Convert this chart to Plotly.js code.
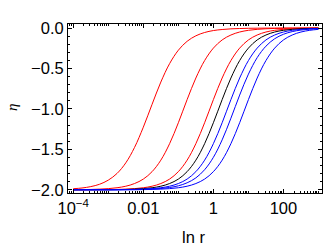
<!DOCTYPE html>
<html><head><meta charset="utf-8">
<script src="https://cdn.plot.ly/plotly-3.0.1.min.js"></script>
<style>html,body{margin:0;padding:0;background:#fff}</style>
</head><body><div id="chart" style="width:324px;height:248px"></div>
<script>
// r values (log grid)
const r = [1e-4,1.778e-4,3.162e-4,5.623e-4,1e-3,1.778e-3,3.162e-3,5.623e-3,0.01,0.01778,0.03162,0.05623,0.1,0.1778,0.3162,0.5623,1,1.778,3.162,5.623,10,17.78,31.62,56.23,100,177.8,316.2,562.3,1000];
const red1 = [-1.987,-1.978,-1.961,-1.932,-1.881,-1.798,-1.667,-1.476,-1.226,-0.943,-0.668,-0.440,-0.274,-0.164,-0.096,-0.055,-0.031,-0.018,-0.010,-0.006,-0.003,-0.002,-0.001,-0.001,0,0,0,0,0];
const red2 = [-1.999,-1.998,-1.996,-1.992,-1.986,-1.975,-1.956,-1.923,-1.868,-1.776,-1.634,-1.430,-1.171,-0.885,-0.618,-0.402,-0.248,-0.147,-0.086,-0.049,-0.028,-0.016,-0.009,-0.005,-0.003,-0.002,-0.001,-0.001,0];
const red3 = [-2.000,-2.000,-1.999,-1.999,-1.998,-1.996,-1.992,-1.986,-1.975,-1.956,-1.923,-1.868,-1.776,-1.634,-1.430,-1.171,-0.885,-0.618,-0.402,-0.248,-0.147,-0.086,-0.049,-0.028,-0.016,-0.009,-0.005,-0.003,-0.002];
const black1 = [-2.000,-2.000,-2.000,-1.999,-1.999,-1.998,-1.996,-1.992,-1.986,-1.975,-1.956,-1.923,-1.868,-1.776,-1.634,-1.430,-1.171,-0.885,-0.618,-0.402,-0.248,-0.147,-0.086,-0.049,-0.028,-0.016,-0.009,-0.005,-0.003];
const blue1 = [-2.000,-2.000,-2.000,-2.000,-2.000,-1.999,-1.998,-1.996,-1.992,-1.986,-1.975,-1.956,-1.923,-1.868,-1.776,-1.634,-1.430,-1.171,-0.885,-0.618,-0.402,-0.248,-0.147,-0.086,-0.049,-0.028,-0.016,-0.009,-0.005];
const blue2 = [-2.000,-2.000,-2.000,-2.000,-2.000,-2.000,-1.998,-1.997,-1.995,-1.991,-1.984,-1.972,-1.951,-1.914,-1.853,-1.752,-1.599,-1.383,-1.115,-0.829,-0.570,-0.366,-0.224,-0.132,-0.077,-0.044,-0.025,-0.014,-0.008];
const blue3 = [-2.000,-2.000,-2.000,-2.000,-2.000,-2.000,-2.000,-2.000,-1.998,-1.996,-1.992,-1.986,-1.975,-1.956,-1.923,-1.868,-1.776,-1.634,-1.430,-1.171,-0.885,-0.618,-0.402,-0.248,-0.147,-0.086,-0.049,-0.028,-0.016];

const xTickVals = [1e-4, 0.01, 1, 100];
const xTickText = ['10<sup>\u22124</sup>', '0.01', '1', '100'];
const yTickVals = [-2, -1.5, -1, -0.5, 0];
const yTickText = ['\u22122.0', '\u22121.5', '\u22121.0', '\u22120.5', '0.0'];
const xLabel = 'ln r';
const yLabel = '\u03b7';

const series = [
  {y: red1, color: '#ff0000'},
  {y: red2, color: '#ff0000'},
  {y: red3, color: '#ff0000'},
  {y: black1, color: '#000000'},
  {y: blue1, color: '#0000ff'},
  {y: blue2, color: '#0000ff'},
  {y: blue3, color: '#0000ff'}
];
const traces = series.map(s => ({
  x: r, y: s.y, type: 'scatter', mode: 'lines',
  line: {color: s.color, width: 1, shape: 'spline', smoothing: 1},
  hoverinfo: 'none', showlegend: false
}));

// minor tick positions
const xMinor = [];
for (let e = -5; e <= 3; e++) for (let m = 1; m <= 9; m++) {
  const v = m * Math.pow(10, e);
  if (v >= 7e-5 && v <= 1300) xMinor.push(v);
}
const yMinor = [];
for (let k = -21; k <= 1; k++) yMinor.push(k / 10);

const font = {family: 'Liberation Sans, Arial, sans-serif', size: 16.5, color: '#000'};
const layout = {
  width: 324, height: 248,
  margin: {l: 68, r: 2, t: 24, b: 55},
  paper_bgcolor: '#fff', plot_bgcolor: '#fff',
  font: font,
  xaxis: {
    type: 'log', range: [-4.15, 3.1],
    tickmode: 'array', tickvals: xTickVals, ticktext: xTickText,
    ticks: 'inside', ticklen: 4, tickwidth: 1, tickcolor: '#000',
    showline: true, linecolor: '#000', linewidth: 1, mirror: 'allticks',
    showgrid: false, zeroline: false, tickfont: font,
    minor: {tickmode: 'array', tickvals: xMinor, ticks: 'inside', ticklen: 2, tickcolor: '#000', showgrid: false}
  },
  yaxis: {
    range: [-2.04, 0.05],
    tickmode: 'array', tickvals: yTickVals, ticktext: yTickText,
    ticks: 'inside', ticklen: 4, tickwidth: 1, tickcolor: '#000',
    showline: true, linecolor: '#000', linewidth: 1, mirror: 'allticks',
    showgrid: false, zeroline: false, tickfont: font,
    minor: {tickmode: 'array', tickvals: yMinor, ticks: 'inside', ticklen: 2, tickcolor: '#000', showgrid: false}
  },
  annotations: [
    {text: xLabel, xref: 'paper', yref: 'paper', x: 0.496, y: -0.26, xanchor: 'center', yanchor: 'middle',
     showarrow: false, font: font},
    {text: '<i>' + yLabel + '</i>', xref: 'paper', yref: 'paper', x: -0.22, y: 0.503, xanchor: 'center', yanchor: 'middle',
     textangle: -90, showarrow: false, font: {family: 'Liberation Serif, Times New Roman, serif', size: 15, color: '#000'}}
  ]
};
Plotly.newPlot('chart', traces, layout, {displayModeBar: false, staticPlot: true});
</script></body></html>
